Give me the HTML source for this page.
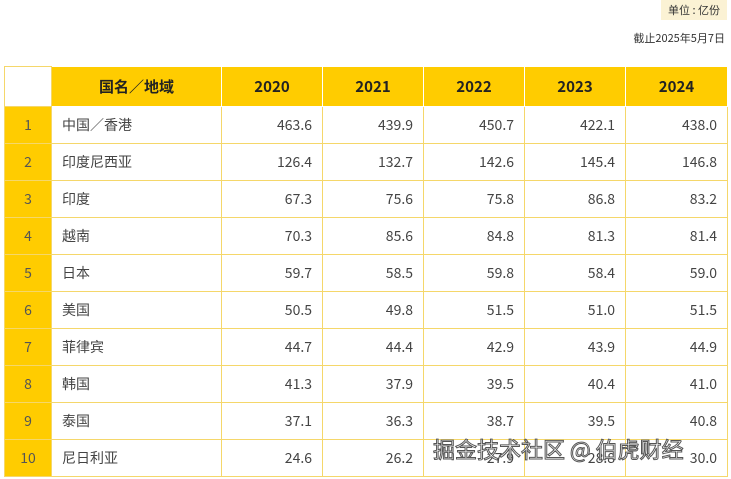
<!DOCTYPE html>
<html><head><meta charset="utf-8"><style>
body{margin:0;width:731px;height:479px;background:#fff;overflow:hidden;position:relative;font-family:"Noto Sans CJK SC",sans-serif;color:#333}
.unit{position:absolute;right:4px;top:0;width:66px;height:20px;background:#fbf2d4;font-size:11px;line-height:20px;text-align:center;color:#333}
.date{position:absolute;right:6px;top:30px;font-size:11px;color:#333}
table{position:absolute;left:4px;top:66px;border-collapse:collapse;table-layout:fixed;width:723px}
td{border:1px solid #f5d76a;height:36px;padding:0 10px;font-size:14px;color:#444;line-height:1}
tr.h td{height:39px;background:#ffcc00;font-weight:bold;font-size:15px;text-align:center;color:#222;border-color:#fff}
tr.h td:first-child{background:#fff;border-color:#f5d76a}
td.i{background:#ffcc00;text-align:center;color:#555;padding:0}
td.n{text-align:right}
.wm{position:absolute;left:433px;top:433px;font-size:22px;color:#fff;-webkit-text-stroke:1px #555;white-space:nowrap}
</style></head><body>
<div class="unit">单位 : 亿份</div>
<div class="date">截止2025年5月7日</div>
<table>
<colgroup><col style="width:47px"><col style="width:170px"><col style="width:101px"><col style="width:101px"><col style="width:101px"><col style="width:101px"><col style="width:102px"></colgroup>
<tr class="h"><td></td><td>国名／地域</td><td>2020</td><td>2021</td><td>2022</td><td>2023</td><td>2024</td></tr>
<tr><td class="i">1</td><td>中国／香港</td><td class="n">463.6</td><td class="n">439.9</td><td class="n">450.7</td><td class="n">422.1</td><td class="n">438.0</td></tr>
<tr><td class="i">2</td><td>印度尼西亚</td><td class="n">126.4</td><td class="n">132.7</td><td class="n">142.6</td><td class="n">145.4</td><td class="n">146.8</td></tr>
<tr><td class="i">3</td><td>印度</td><td class="n">67.3</td><td class="n">75.6</td><td class="n">75.8</td><td class="n">86.8</td><td class="n">83.2</td></tr>
<tr><td class="i">4</td><td>越南</td><td class="n">70.3</td><td class="n">85.6</td><td class="n">84.8</td><td class="n">81.3</td><td class="n">81.4</td></tr>
<tr><td class="i">5</td><td>日本</td><td class="n">59.7</td><td class="n">58.5</td><td class="n">59.8</td><td class="n">58.4</td><td class="n">59.0</td></tr>
<tr><td class="i">6</td><td>美国</td><td class="n">50.5</td><td class="n">49.8</td><td class="n">51.5</td><td class="n">51.0</td><td class="n">51.5</td></tr>
<tr><td class="i">7</td><td>菲律宾</td><td class="n">44.7</td><td class="n">44.4</td><td class="n">42.9</td><td class="n">43.9</td><td class="n">44.9</td></tr>
<tr><td class="i">8</td><td>韩国</td><td class="n">41.3</td><td class="n">37.9</td><td class="n">39.5</td><td class="n">40.4</td><td class="n">41.0</td></tr>
<tr><td class="i">9</td><td>泰国</td><td class="n">37.1</td><td class="n">36.3</td><td class="n">38.7</td><td class="n">39.5</td><td class="n">40.8</td></tr>
<tr><td class="i">10</td><td>尼日利亚</td><td class="n">24.6</td><td class="n">26.2</td><td class="n">27.9</td><td class="n">28.8</td><td class="n">30.0</td></tr>
</table>
<div class="wm">掘金技术社区 @ 伯虎财经</div>
</body></html>
